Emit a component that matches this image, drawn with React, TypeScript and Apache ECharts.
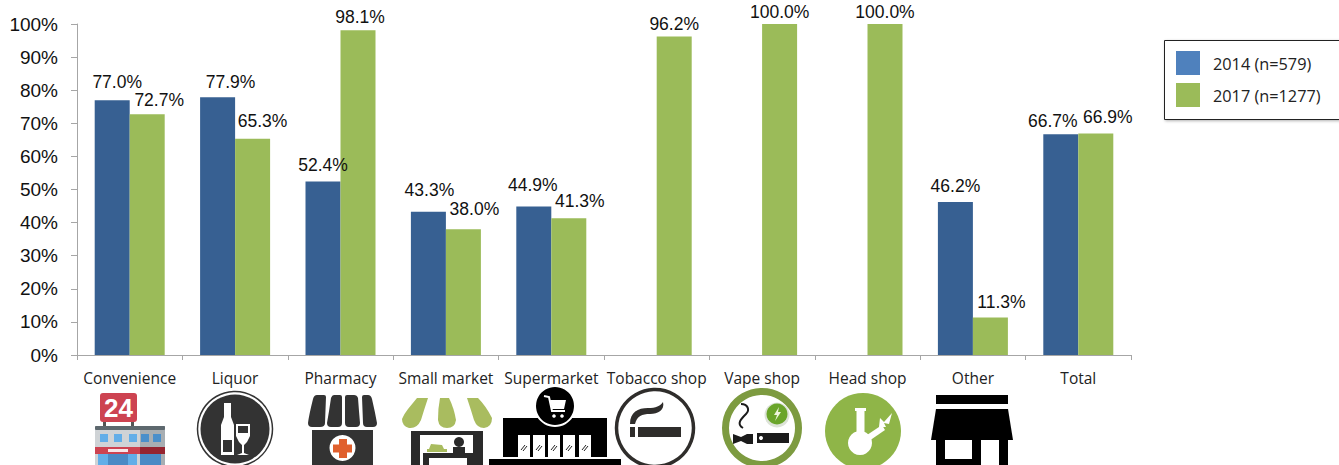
import React, { useEffect, useRef } from "react";
import * as echarts from "echarts";

const categories = ["Convenience", "Liquor", "Pharmacy", "Small market", "Supermarket", "Tobacco shop", "Vape shop", "Head shop", "Other", "Total"];
const values2014 = [77.0, 77.9, 52.4, 43.3, 44.9, null, null, null, 46.2, 66.7];
const values2017 = [72.7, 65.3, 98.1, 38.0, 41.3, 96.2, 100.0, 100.0, 11.3, 66.9];
const seriesNames = ["2014 (n=579)", "2017 (n=1277)"];
const yTicks = [0, 10, 20, 30, 40, 50, 60, 70, 80, 90, 100];

const nudge2014 = [[5, -4], [13, -1], [0, -3], [1, -8], [-1, -7], [0, 0], [0, 0], [0, 0], [0, -2], [-8, 1]];
const nudge2017 = [[12, 0], [10, -4], [2, 1], [11, -6], [11, -3], [0, 1], [0, 2], [0, 2], [11, -2], [12, -3]];

const DARK = "#333333";
const GREEN = "#a9bc5f";

const shapePaths: Record<string, string> = {
  awn1: "M317 395 L324 395 Q326 395 326 397 L325 423 Q325 427 320 427 L312 427 Q308 427 308 423 Q309 415 313 399 Q314 395 317 395 Z",
  awn2: "M334 395 L340 395 Q342 395 342 397 L342 423 Q342 427 338 427 L331 427 Q327 427 327 423 Q329 412 331 398 Q332 395 334 395 Z",
  awn3: "M347 395 L354 395 Q357 395 358 398 Q359 412 360 423 Q360 427 356 427 L349 427 Q345 427 345 423 L345 397 Q345 395 347 395 Z",
  awn4: "M364 395 L368 395 Q371 395 372 399 Q375 412 377 423 Q377 427 373 427 L367 427 Q363 427 363 423 L362 397 Q362 395 364 395 Z",
  mk1: "M417 398 L428 398 Q424 410 421 420 Q417 429 409 428 Q402 426 402 419 Q404 414 408 409 Z",
  mk2: "M440 398 L449 398 Q454 408 456 420 Q455 428 447 428 Q439 428 438 420 Q438 408 440 398 Z",
  mk3: "M467 398 L478 398 Q486 406 492 418 Q492 427 484 428 Q477 428 474 420 Q471 410 467 398 Z",
  mkPile: "M427 452 L447 452 L447 449 L444 449 L442 445 L431 444 L429 449 L427 449 Z",
  smoke: "M630 424 C630 412 638 408 648 408 C656 408 660 406 663 402 C665 410 658 414 650 414 C642 414 637 416 635 424 Z",
  squiggle: "M741 404 C748 404 750 410 746 414 C741 419 736 424 743 428",
  vMouth: "M733 434 L741 437 L747 434 L753 434 L753 444 L747 444 L741 441 L733 444 Z",
  bongLeaf: "M879 427 L880 418 L884 422 L892 413 L889 424 L884 423 L886 427 Z",
};
Object.entries(shapePaths).forEach(([name, d]) => {
  echarts.graphic.registerShape(name, echarts.graphic.extendPath(d, {}));
});
const svgShape = (name: string, fill: string, stroke?: string, lineWidth = 0) => ({ type: name, style: { fill, stroke, lineWidth }, silent: true });

const rect = (x: number, y: number, w: number, h: number, fill: string, r = 0) => ({ type: "rect", shape: { x, y, width: w, height: h, r }, style: { fill }, silent: true });
const circ = (cx: number, cy: number, r: number, fill: string, stroke?: string, lw = 0) => ({ type: "circle", shape: { cx, cy, r }, style: { fill, stroke, lineWidth: lw }, silent: true });
const poly = (points: number[][], fill: string) => ({ type: "polygon", shape: { points }, style: { fill }, silent: true });

function icons(): any[] {
  const out: any[] = [];
  // Convenience
  out.push(rect(103, 421, 3, 6, "#555"), rect(131, 421, 3, 6, "#555"));
  out.push(rect(100, 393, 37, 29, "#cd4351", 3));
  out.push({ type: "text", style: { text: "24", x: 118.5, y: 407.5, fill: "#fff", font: "bold 26px 'Liberation Sans'", align: "center", verticalAlign: "middle" }, silent: true });
  out.push(rect(95, 426, 45, 40, "#cfd3d6"), rect(140, 426, 25, 40, "#a8aeb2"), rect(95, 426, 70, 4, "#5d686e", 1));
  [100, 114, 129, 141, 153].forEach((x) => out.push(rect(x, 434, 8, 8, x > 139 ? "#4a8fca" : "#62aee8")));
  out.push(rect(95, 447, 45, 7, "#cd4351"), rect(140, 447, 25, 7, "#962430"), rect(108, 449, 20, 3, "#f8e6e8"));
  out.push(rect(98, 454, 39, 11, "#62aee8"), rect(108, 454, 20, 11, "#4a8ac5"), rect(140, 454, 21, 11, "#4a8ac5"));
  // Liquor
  out.push(circ(235, 429, 37.5, "#fff", DARK, 1.5), circ(235, 429, 34.5, DARK));
  out.push(poly([[224, 403], [231, 403], [231, 417], [234, 425], [234, 455], [221, 455], [221, 425], [224, 417]], "#fff"));
  out.push(rect(223, 440, 9, 12, DARK));
  out.push(poly([[236, 424], [250, 424], [250, 436], [247, 442], [244, 445], [244, 453], [249, 455], [237, 455], [242, 453], [242, 445], [239, 442], [236, 436]], "#fff"));
  out.push(rect(238, 426, 10, 7, DARK));
  // Pharmacy
  out.push(svgShape("awn1", DARK), svgShape("awn2", DARK), svgShape("awn3", DARK), svgShape("awn4", DARK));
  out.push(rect(312, 430, 61, 36, DARK), circ(342.5, 448, 13, "#fff"), rect(339, 439, 8, 19, "#e0602e"), rect(333, 444.5, 19, 8, "#e0602e"));
  // Small market
  out.push(svgShape("mk1", GREEN), svgShape("mk2", GREEN), svgShape("mk3", GREEN));
  out.push(rect(411, 431, 72, 4, "#2a2a2a"), rect(411, 431, 9, 35, "#2a2a2a"), rect(473, 431, 10, 35, "#2a2a2a"));
  out.push(rect(423, 453, 50, 13, "#2a2a2a"), rect(429, 458, 38, 8, "#fff"), circ(459, 442, 5, "#2a2a2a"), rect(453, 447, 12, 7, "#2a2a2a"));
  out.push(svgShape("mkPile", GREEN));
  // Supermarket
  out.push(rect(503, 418, 104, 39, "#000"), circ(555, 406, 21, "#fff"), circ(555, 406, 19, "#000"));
  out.push({ type: "polyline", shape: { points: [[544, 396], [549, 397], [552, 411], [565, 411]] }, style: { fill: "none", stroke: "#fff", lineWidth: 2 }, silent: true });
  out.push(poly([[550, 400], [566, 400], [564, 409], [552, 409]], "#fff"), circ(554, 416, 1.8, "#fff"), circ(562, 416, 1.8, "#fff"));
  [518, 533, 548, 563, 579].forEach((x) => {
    out.push(rect(x, 435, 12, 22, "#fff"));
    out.push({ type: "line", shape: { x1: x + 3, y1: 450, x2: x + 7, y2: 445 }, style: { stroke: "#222", lineWidth: 1 }, silent: true }, { type: "line", shape: { x1: x + 5, y1: 451, x2: x + 9, y2: 446 }, style: { stroke: "#222", lineWidth: 1 }, silent: true });
  });
  out.push(rect(489, 459, 132, 7, "#000"));
  // Tobacco
  out.push(circ(655, 428, 38.5, "#fff", "#2f2d2b", 3.5));
  out.push(rect(630, 427, 5, 10, "#2f2d2b"), rect(638, 427, 43, 10, "#2f2d2b"));
  out.push(svgShape("smoke", "#2f2d2b"));
  // Vape
  out.push(circ(762, 428, 36.5, "#fff", "#7d9b40", 7));
  out.push(circ(777, 415, 12.5, "#dde3d8"), circ(777, 414, 10.5, "#6aa52a"));
  out.push(poly([[779, 407], [774, 415], [777, 415], [775, 421], [781, 412], [778, 412]], "#eef5dc"));
  out.push(svgShape("vMouth", "#1b1b1b"), rect(757, 433, 32, 10, "#1b1b1b"), circ(761, 438, 2, "#fff"));
  out.push(svgShape("squiggle", "none", "#1b1b1b", 2));
  // Head shop
  out.push(circ(863, 431, 38, "#8fb548"));
  out.push(rect(855, 408, 11, 3, "#fff"), rect(856.5, 408, 8, 28, "#fff"), circ(860, 443, 12, "#fff"));
  out.push(poly([[867, 435], [882, 425], [885, 430], [869, 441]], "#fff"));
  out.push(svgShape("bongLeaf", "#fff"));
  // Other
  out.push(rect(936, 395, 72, 9, "#000"), poly([[936, 409], [1008, 409], [1013, 440], [931, 440]], "#000"));
  out.push(rect(936, 440, 72, 26, "#000"), rect(945, 440, 27, 19, "#fff"), rect(981, 440, 18, 26, "#fff"));
  return out;
}

const legendGraphics = (): any[] => [
  { type: "rect", shape: { x: 1164.5, y: 40.5, width: 190, height: 79 }, style: { fill: "#fff", stroke: "#222", lineWidth: 1, shadowBlur: 3, shadowColor: "rgba(0,0,0,0.3)", shadowOffsetX: 1, shadowOffsetY: 1 }, silent: true },
  { type: "rect", shape: { x: 1176, y: 51, width: 24, height: 24 }, style: { fill: "#4f81bd" }, silent: true },
  { type: "rect", shape: { x: 1176, y: 83, width: 24, height: 24 }, style: { fill: "#9bbb59" }, silent: true },
  { type: "text", style: { text: seriesNames[0], x: 1213, y: 64, fill: "#222", font: "16.3px 'Open Sans'", verticalAlign: "middle" }, silent: true },
  { type: "text", style: { text: seriesNames[1], x: 1213, y: 96, fill: "#222", font: "16.3px 'Open Sans'", verticalAlign: "middle" }, silent: true },
];

const withNudge = (values: (number | null)[], nudges: number[][]) =>
  values.map((v, i) => ({ value: v, label: { offset: nudges[i] } }));

const barLabel = {
  show: true,
  position: "top" as const,
  distance: 5,
  fontFamily: "Liberation Sans",
  fontSize: 17.5,
  color: "#111",
  formatter: (p: any) => `${Number(p.value).toFixed(1)}%`,
};

export default function App() {
  const ref = useRef<HTMLDivElement>(null);
  useEffect(() => {
    const chart = echarts.init(ref.current!, undefined, { renderer: "svg" });
    chart.setOption({
      animation: false,
      backgroundColor: "#fff",
      grid: { left: 77, top: 24, width: 1054, height: 331, containLabel: false },
      xAxis: {
        type: "category",
        data: categories,
        axisLine: { lineStyle: { color: "#a6a6a6", width: 1 } },
        axisTick: { show: true, alignWithLabel: false, length: 5, lineStyle: { color: "#a6a6a6" } },
        axisLabel: { interval: 0, margin: 15, fontFamily: "Open Sans", fontSize: 15.5, color: "#222" },
      },
      yAxis: {
        type: "value",
        min: yTicks[0],
        max: yTicks[yTicks.length - 1],
        interval: 10,
        axisLine: { show: true, lineStyle: { color: "#a6a6a6", width: 1 } },
        axisTick: { show: true, length: 6, lineStyle: { color: "#a6a6a6" } },
        splitLine: { show: false },
        axisLabel: { margin: 19, fontFamily: "Liberation Sans", fontSize: 19, color: "#111", formatter: "{value}%" },
      },
      series: [
        { type: "bar", name: seriesNames[0], data: withNudge(values2014, nudge2014), barWidth: 35, barGap: "0%", itemStyle: { color: "#376092" }, label: barLabel },
        { type: "bar", name: seriesNames[1], data: withNudge(values2017, nudge2017), barWidth: 35, barGap: "0%", itemStyle: { color: "#9bbb59" }, label: barLabel },
      ],
      graphic: { elements: [...icons(), ...legendGraphics()] },
    });
    return () => chart.dispose();
  }, []);
  return <div ref={ref} style={{ width: 1339, height: 465, position: "fixed", left: 0, top: 0 }} />;
}
